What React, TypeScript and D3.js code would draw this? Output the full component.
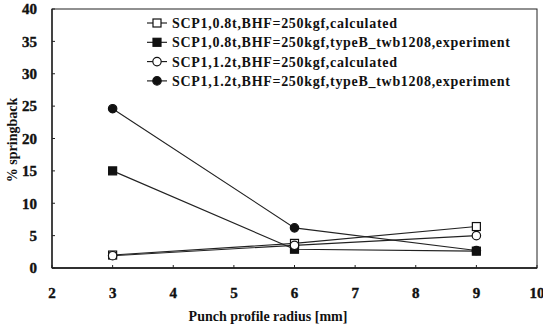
import { useEffect, useRef } from "react"
import * as d3 from "d3"

const radii = [3, 6, 9]
const calc08 = [2.0, 3.8, 6.4]
const exp08 = [15.0, 2.9, 2.6]
const calc12 = [1.9, 3.5, 5.0]
const exp12 = [24.6, 6.2, 2.7]
const legendLabels = [
  "SCP1,0.8t,BHF=250kgf,calculated",
  "SCP1,0.8t,BHF=250kgf,typeB_twb1208,experiment",
  "SCP1,1.2t,BHF=250kgf,calculated",
  "SCP1,1.2t,BHF=250kgf,typeB_twb1208,experiment",
]
const xTicks = [2, 3, 4, 5, 6, 7, 8, 9, 10]
const yTicks = [0, 5, 10, 15, 20, 25, 30, 35, 40]

const series = [
  { values: calc08, shape: "square", filled: false },
  { values: exp08, shape: "square", filled: true },
  { values: calc12, shape: "circle", filled: false },
  { values: exp12, shape: "circle", filled: true },
]

const font = "Liberation Serif"

export default function App() {
  const svgRef = useRef<SVGSVGElement>(null)

  useEffect(() => {
    if (!svgRef.current) return
    const svg = d3.select(svgRef.current)
    svg.selectAll("*").remove()

    const width = 543
    const height = 327
    const margin = { top: 9, right: 6, bottom: 59, left: 52 }
    const innerWidth = width - margin.left - margin.right
    const innerHeight = height - margin.top - margin.bottom

    const x = d3.scaleLinear().domain([2, 10]).range([0, innerWidth])
    const y = d3.scaleLinear().domain([0, 40]).range([innerHeight, 0])

    const g = svg.append("g").attr("transform", `translate(${margin.left}, ${margin.top})`)

    // frame
    g.append("rect")
      .attr("width", innerWidth)
      .attr("height", innerHeight)
      .attr("fill", "none")
      .attr("stroke", "#222")
      .attr("stroke-width", 1)

    g.append("line").attr("x1", 0).attr("x2", innerWidth).attr("y1", innerHeight).attr("y2", innerHeight)
      .attr("stroke", "#111").attr("stroke-width", 1.5)
    g.append("line").attr("x1", 0).attr("x2", 0).attr("y1", 0).attr("y2", innerHeight)
      .attr("stroke", "#111").attr("stroke-width", 1.2)

    g.selectAll(".yt")
      .data(yTicks)
      .join("line")
      .attr("x1", 0)
      .attr("x2", 3)
      .attr("y1", (d) => y(d))
      .attr("y2", (d) => y(d))
      .attr("stroke", "#222")

    g.selectAll(".yl")
      .data(yTicks)
      .join("text")
      .attr("x", -15)
      .attr("y", (d) => y(d))
      .attr("dy", "0.35em")
      .attr("text-anchor", "end")
      .style("font-family", font)
      .style("font-weight", "700")
      .style("font-size", "15px")
      .attr("fill", "#111")
      .attr("stroke", "#111")
      .attr("stroke-width", 0.4)
      .text((d) => d)

    g.selectAll(".xt")
      .data(xTicks)
      .join("line")
      .attr("x1", (d) => x(d))
      .attr("x2", (d) => x(d))
      .attr("y1", innerHeight)
      .attr("y2", innerHeight - 3)
      .attr("stroke", "#222")

    g.selectAll(".xl")
      .data(xTicks)
      .join("text")
      .attr("x", (d) => x(d))
      .attr("y", innerHeight + 30)
      .attr("text-anchor", "middle")
      .style("font-family", font)
      .style("font-weight", "700")
      .style("font-size", "15px")
      .attr("fill", "#111")
      .attr("stroke", "#111")
      .attr("stroke-width", 0.4)
      .text((d) => d)

    svg.append("text")
      .attr("x", 268)
      .attr("y", 321)
      .attr("text-anchor", "middle")
      .style("font-family", font)
      .style("font-weight", "700")
      .style("font-size", "14px")
      .attr("fill", "#111")
      .text("Punch profile radius [mm]")

    svg.append("text")
      .attr("transform", "rotate(-90)")
      .attr("x", -140)
      .attr("y", 17)
      .attr("text-anchor", "middle")
      .style("font-family", font)
      .style("font-weight", "700")
      .style("font-size", "14px")
      .attr("fill", "#111")
      .text("% springback")

    const line = d3.line<number>()
      .x((_, i) => x(radii[i]))
      .y((d) => y(d))

    const drawMarker = (sel: any, shape: string, filled: boolean, cx: number, cy: number) => {
      if (shape === "square") {
        sel.append("rect")
          .attr("x", cx - 4)
          .attr("y", cy - 4)
          .attr("width", 8)
          .attr("height", 8)
          .attr("fill", filled ? "#111" : "#fff")
          .attr("stroke", "#111")
          .attr("stroke-width", 1.2)
      } else {
        sel.append("circle")
          .attr("cx", cx)
          .attr("cy", cy)
          .attr("r", 4.2)
          .attr("fill", filled ? "#111" : "#fff")
          .attr("stroke", "#111")
          .attr("stroke-width", 1.2)
      }
    }

    series.forEach((s) => {
      g.append("path")
        .datum(s.values)
        .attr("d", line)
        .attr("fill", "none")
        .attr("stroke", "#222")
        .attr("stroke-width", 1.1)
    })
    series.forEach((s) => {
      const mg = g.append("g")
      s.values.forEach((v, i) => drawMarker(mg, s.shape, s.filled, x(radii[i]), y(v)))
    })

    // legend
    const lg = svg.append("g")
    legendLabels.forEach((label, i) => {
      const ly = 23 + i * 19.3
      const row = lg.append("g")
      row.append("line")
        .attr("x1", 147)
        .attr("x2", 167)
        .attr("y1", ly)
        .attr("y2", ly)
        .attr("stroke", "#111")
        .attr("stroke-width", 1.1)
      drawMarker(row, series[i].shape, series[i].filled, 157, ly)
      row.append("text")
        .attr("x", 172)
        .attr("y", ly)
        .attr("dy", "0.35em")
        .style("font-family", font)
        .style("font-weight", "700")
        .style("font-size", "14px")
        .style("letter-spacing", "0.7px")
        .attr("fill", "#111")
        .text(label)
    })
  }, [])

  return (
    <div style={{ position: "fixed", left: 0, top: 0, background: "#fff" }}>
      <svg ref={svgRef} width={543} height={327} style={{ display: "block" }} />
    </div>
  )
}
